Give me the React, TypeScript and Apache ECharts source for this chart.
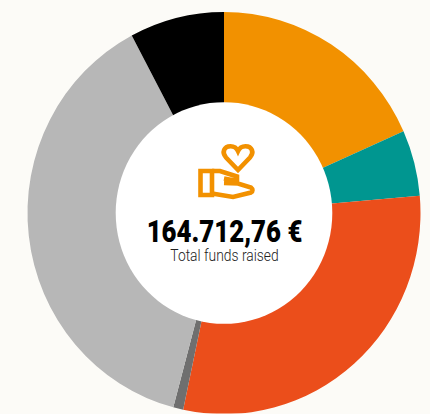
import React, { useEffect, useRef } from "react";
import * as echarts from "echarts";

const categories = ["Category A", "Category B", "Category C", "Category D", "Category E", "Category F"];
const values = [30197, 8739, 48911, 1350, 62705, 12811];
const colors = ["#f29100", "#009690", "#eb4e1b", "#6f6f6f", "#b7b7b7", "#000000"];
const totalLabel = "164.712,76 €";
const subLabel = "Total funds raised";

const STRETCH = 1.0235;
const HEIGHT = 414 / STRETCH;
const CX = 224;
const CY = 213 / STRETCH;
const yy = (y: number) => y / STRETCH;

const heartPath =
  "M238 170 L226 157.5 C221.5 152.5 224 146.2 230.5 146.2 C234 146.2 236.6 148 238 151 C239.4 148 242 146.2 245.5 146.2 C252 146.2 254.5 152.5 250 157.5 Z";
const cuffPath = "M200.5 171 H212 V195 H200.5 Z";
const handPath =
  "M212 171 H220 L237 176.5 V181 L224 178.5 M224 183 L238 183.5 L251 187.5 C253 189 253 191.5 251 192.5 L233 197 L212 193.5";

echarts.graphic.registerShape("heartIcon", echarts.graphic.extendPath(heartPath, {}));
echarts.graphic.registerShape("cuffIcon", echarts.graphic.extendPath(cuffPath, {}));
echarts.graphic.registerShape("handIcon", echarts.graphic.extendPath(handPath, {}));

export default function App() {
  const ref = useRef<HTMLDivElement>(null);
  useEffect(() => {
    const chart = echarts.init(ref.current!, undefined, { renderer: "svg" });
    const iconStyle = { fill: "none", stroke: "#f29100", lineWidth: 4.6 };
    chart.setOption({
      animation: false,
      backgroundColor: "#fcfbf7",
      series: [
        {
          type: "pie",
          center: [CX, CY],
          radius: [100, 196.5],
          startAngle: 90,
          clockwise: true,
          silent: true,
          label: { show: false },
          labelLine: { show: false },
          data: categories.map((name, i) => ({
            name,
            value: values[i],
            itemStyle: { color: colors[i] },
          })),
        },
      ],
      graphic: [
        { type: "circle", z: 10, shape: { cx: CX, cy: CY, r: 108.3 }, style: { fill: "#ffffff" } },
        { type: "heartIcon", z: 11, scaleY: 1 / STRETCH, style: iconStyle },
        { type: "cuffIcon", z: 11, scaleY: 1 / STRETCH, style: iconStyle },
        { type: "handIcon", z: 11, scaleY: 1 / STRETCH, style: iconStyle },
        {
          type: "text",
          z: 11,
          x: 224.5,
          y: yy(247),
          scaleX: 0.86,
          style: {
            text: totalLabel,
            fill: "#000000",
            font: "900 30px Roboto",
            textAlign: "center",
            textVerticalAlign: "bottom",
          },
        },
        {
          type: "text",
          z: 11,
          x: 224.5,
          y: yy(263.5),
          scaleX: 0.815,
          style: {
            text: subLabel,
            fill: "#222222",
            font: "300 17px Roboto",
            textAlign: "center",
            textVerticalAlign: "bottom",
          },
        },
      ],
    });
    return () => chart.dispose();
  }, []);
  return (
    <div style={{ position: "fixed", left: 0, top: 0, width: 430, height: 414, overflow: "hidden", background: "#fcfbf7" }}>
      <div
        ref={ref}
        style={{ width: 430, height: HEIGHT, transform: `scaleY(${STRETCH})`, transformOrigin: "0 0" }}
      />
    </div>
  );
}
